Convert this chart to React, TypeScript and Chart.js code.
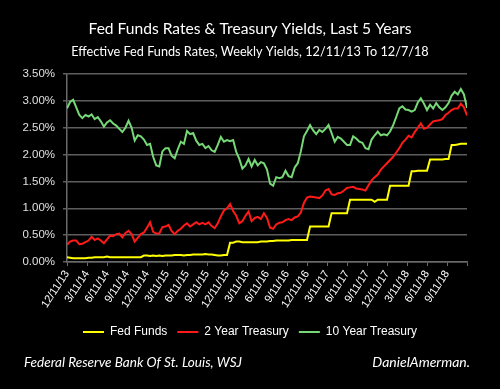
import React, { useEffect, useRef } from "react";
import { Chart, registerables } from "chart.js";

Chart.register(...registerables);

// Quarterly tick labels along the weekly x axis (one every 13 weeks)
const xTickLabels = [
  "12/11/13", "3/11/14", "6/11/14", "9/11/14", "12/11/14", "3/11/15", "6/11/15",
  "9/11/15", "12/11/15", "3/11/16", "6/11/16", "9/11/16", "12/11/16", "3/11/17",
  "6/11/17", "9/11/17", "12/11/17", "3/11/18", "6/11/18", "9/11/18",
];
const WEEKS_PER_TICK = 13;
const WEEKS_PER_SAMPLE = 2; // values below are read every second week
const TOTAL_WEEKS = 260;

const seriesNames = ["Fed Funds", "2 Year Treasury", "10 Year Treasury"];

// Effective Fed Funds rate (%), every 2 weeks from 12/11/13
const fedFunds = [
  0.09, 0.08, 0.07, 0.07, 0.07, 0.07, 0.07, 0.08, 0.08, 0.09,
  0.09, 0.09, 0.09, 0.10, 0.09, 0.09, 0.09, 0.09, 0.09, 0.09,
  0.09, 0.09, 0.09, 0.09, 0.09, 0.12, 0.12, 0.11, 0.12, 0.11,
  0.12, 0.11, 0.12, 0.12, 0.12, 0.13, 0.13, 0.13, 0.12, 0.13,
  0.13, 0.14, 0.14, 0.14, 0.14, 0.15, 0.14, 0.14, 0.13, 0.12,
  0.12, 0.13, 0.13, 0.36, 0.36, 0.38, 0.38, 0.37, 0.37, 0.37,
  0.37, 0.37, 0.37, 0.38, 0.38, 0.38, 0.39, 0.39, 0.40, 0.40,
  0.40, 0.40, 0.40, 0.41, 0.41, 0.41, 0.41, 0.41, 0.41, 0.66,
  0.66, 0.66, 0.66, 0.66, 0.66, 0.66, 0.91, 0.91, 0.91, 0.91,
  0.91, 0.91, 1.16, 1.16, 1.16, 1.16, 1.16, 1.16, 1.16, 1.16,
  1.12, 1.16, 1.16, 1.16, 1.16, 1.42, 1.42, 1.42, 1.42, 1.42,
  1.42, 1.42, 1.69, 1.69, 1.70, 1.70, 1.70, 1.70, 1.91, 1.91,
  1.91, 1.91, 1.91, 1.92, 1.92, 2.18, 2.18, 2.19, 2.20, 2.20,
  2.20,
];

// 2 Year Treasury yield (%), every 2 weeks
const twoYear = [
  0.32, 0.38, 0.40, 0.40, 0.33, 0.34, 0.37, 0.40, 0.47, 0.41,
  0.44, 0.40, 0.35, 0.42, 0.49, 0.48, 0.52, 0.53, 0.46, 0.54,
  0.58, 0.52, 0.38, 0.45, 0.52, 0.55, 0.64, 0.74, 0.56, 0.53,
  0.53, 0.65, 0.66, 0.69, 0.58, 0.52, 0.58, 0.62, 0.68, 0.72,
  0.66, 0.70, 0.74, 0.70, 0.73, 0.70, 0.74, 0.67, 0.63, 0.72,
  0.85, 0.96, 1.00, 1.08, 0.95, 0.86, 0.72, 0.76, 0.86, 0.94,
  0.76, 0.82, 0.84, 0.80, 0.91, 0.82, 0.64, 0.62, 0.70, 0.73,
  0.74, 0.78, 0.80, 0.78, 0.83, 0.85, 0.92, 1.10, 1.20, 1.22,
  1.21, 1.20, 1.19, 1.24, 1.33, 1.36, 1.26, 1.25, 1.28, 1.29,
  1.33, 1.38, 1.39, 1.40, 1.37, 1.36, 1.35, 1.33, 1.43, 1.52,
  1.58, 1.63, 1.72, 1.78, 1.84, 1.90, 1.96, 2.04, 2.12, 2.22,
  2.28, 2.35, 2.32, 2.42, 2.50, 2.58, 2.48, 2.50, 2.56, 2.62,
  2.63, 2.64, 2.66, 2.74, 2.78, 2.83, 2.86, 2.86, 2.95, 2.88,
  2.73,
];

// 10 Year Treasury yield (%), every 2 weeks
const tenYear = [
  2.86, 2.98, 3.02, 2.88, 2.74, 2.68, 2.74, 2.71, 2.75, 2.66,
  2.70, 2.62, 2.52, 2.60, 2.64, 2.58, 2.54, 2.48, 2.42, 2.50,
  2.63, 2.50, 2.26, 2.36, 2.34, 2.28, 2.18, 2.20, 1.96, 1.80,
  1.78, 2.06, 2.12, 2.12, 1.98, 1.93, 2.10, 2.24, 2.20, 2.44,
  2.38, 2.40, 2.26, 2.18, 2.20, 2.12, 2.16, 2.08, 2.05, 2.18,
  2.33, 2.24, 2.27, 2.25, 2.27, 2.05, 1.92, 1.74, 1.80, 1.92,
  1.78, 1.90, 1.80, 1.86, 1.84, 1.72, 1.46, 1.42, 1.58, 1.56,
  1.58, 1.70, 1.60, 1.58, 1.76, 1.84, 2.06, 2.34, 2.44, 2.55,
  2.45, 2.38, 2.46, 2.42, 2.48, 2.55, 2.40, 2.24, 2.33, 2.30,
  2.24, 2.18, 2.18, 2.34, 2.30, 2.24, 2.22, 2.12, 2.10, 2.28,
  2.36, 2.43, 2.36, 2.38, 2.36, 2.43, 2.55, 2.70, 2.86, 2.90,
  2.84, 2.83, 2.80, 2.83, 2.97, 3.05, 2.95, 2.83, 2.93, 2.86,
  2.96, 2.88, 2.83, 2.88, 2.96, 3.10, 3.17, 3.12, 3.22, 3.12,
  2.87,
];

const titleText = "Fed Funds Rates & Treasury Yields, Last 5 Years";
const subtitleText = "Effective Fed Funds Rates, Weekly Yields, 12/11/13 To 12/7/18";
const sourceText = "Federal Reserve Bank Of St. Louis, WSJ";
const creditText = "DanielAmerman.";

const toPoints = (vals: number[]) =>
  vals.map((v, i) => ({ x: i * WEEKS_PER_SAMPLE, y: v }));

const footerPlugin = {
  id: "footerText",
  afterDraw(chart: any) {
    const ctx = chart.ctx;
    ctx.save();
    ctx.fillStyle = "#ffffff";
    ctx.font = 'italic 14px "Lato"';
    ctx.textBaseline = "middle";
    ctx.textAlign = "left";
    ctx.fillText(sourceText, 24, 362, 218);
    ctx.textAlign = "right";
    ctx.fillText(creditText, 470, 362, 98);
    ctx.restore();
  },
};

export default function App() {
  const canvasRef = useRef<HTMLCanvasElement | null>(null);

  useEffect(() => {
    if (!canvasRef.current) return;
    const colors = ["#ffff00", "#ff1a1a", "#77d877"];
    const chart = new Chart(canvasRef.current, {
      type: "line",
      data: {
        datasets: [fedFunds, twoYear, tenYear].map((vals, i) => ({
          label: seriesNames[i],
          data: toPoints(vals),
          borderColor: colors[i],
          backgroundColor: colors[i],
          borderWidth: 2,
          pointRadius: 0,
          tension: 0,
          fill: false,
          yAxisID: "y",
        })),
      },
      options: {
        responsive: false,
        animation: false,
        devicePixelRatio: 1,
        layout: { padding: { left: 0, right: 0, top: 0, bottom: 41 } },
        plugins: {
          title: {
            display: true,
            text: titleText,
            color: "#ffffff",
            font: { family: "Lato", size: 15.6, weight: "normal" },
            padding: { top: 19.6, bottom: 0 },
          },
          subtitle: {
            display: true,
            text: subtitleText,
            color: "#ffffff",
            font: { family: "Lato", size: 12.7, weight: "normal" },
            padding: { top: 6.1, bottom: 14.4 },
          },
          legend: {
            display: true,
            position: "bottom",
            labels: {
              color: "#ffffff",
              font: { family: "Liberation Sans", size: 12 },
              usePointStyle: true,
              pointStyle: "line",
              pointStyleWidth: 21,
              boxHeight: 12,
              padding: 10,
            },
          },
          tooltip: { enabled: false },
        },
        scales: {
          x: {
            type: "linear",
            min: 0,
            max: TOTAL_WEEKS,
            afterFit: (scale: any) => {
              scale.height = 54;
            },
            grid: {
              display: true,
              drawOnChartArea: false,
              drawTicks: true,
              tickLength: 4,
              color: "#6a6a6a",
              lineWidth: 1,
            },
            border: { display: true, color: "#6a6a6a", width: 1.5 },
            ticks: {
              stepSize: WEEKS_PER_TICK,
              autoSkip: false,
              minRotation: 57,
              maxRotation: 57,
              padding: 2,
              color: "#ffffff",
              font: { family: "Liberation Sans", size: 11 },
              callback: (value: any) => {
                const idx = Math.round(Number(value) / WEEKS_PER_TICK);
                return xTickLabels[idx] ?? "";
              },
            },
          },
          y: {
            type: "linear",
            position: "left",
            min: 0,
            max: 3.5,
            afterFit: (scale: any) => {
              scale.width = 67;
            },
            grid: {
              color: "#5e5e5e",
              lineWidth: 1.5,
              tickLength: 4,
              drawTicks: true,
            },
            border: { display: true, color: "#6a6a6a", width: 1.5 },
            ticks: {
              stepSize: 0.5,
              padding: 8,
              color: "#e0e0e0",
              font: { family: "Liberation Sans", size: 11.5 },
              callback: (value: any) => Number(value).toFixed(2) + "%",
            },
          },
          rightSpace: {
            type: "linear",
            position: "right",
            display: true,
            min: 0,
            max: 3.5,
            afterFit: (scale: any) => {
              scale.width = 33;
            },
            grid: { display: false, drawTicks: false },
            border: { display: false },
            ticks: { display: false },
          },
        },
      },
      plugins: [footerPlugin],
    });
    return () => chart.destroy();
  }, []);

  return (
    <div
      style={{
        position: "absolute",
        left: 0,
        top: 0,
        width: 500,
        height: 389,
        background: "#000000",
      }}
    >
      <canvas ref={canvasRef} width={500} height={389} />
    </div>
  );
}
